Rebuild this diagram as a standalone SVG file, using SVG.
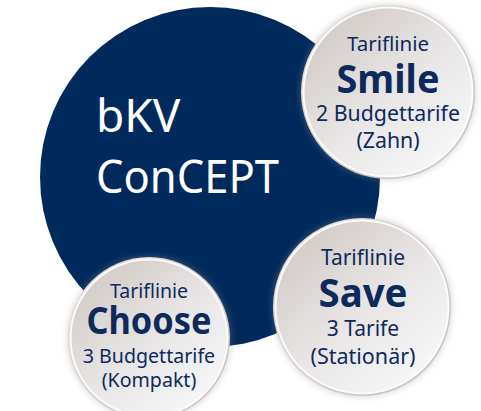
<svg xmlns="http://www.w3.org/2000/svg" width="481" height="411" viewBox="0 0 481 411">
<defs>
<linearGradient id="disc" x1="0.15" y1="0.1" x2="0.85" y2="0.9">
<stop offset="0" stop-color="#d3ccc8"/>
<stop offset="0.55" stop-color="#e9e7e7"/>
<stop offset="1" stop-color="#f6f6f7"/>
</linearGradient>
<linearGradient id="rim" x1="0" y1="0" x2="1" y2="1">
<stop offset="0" stop-color="#e6e2df"/>
<stop offset="1" stop-color="#c4bbb6"/>
</linearGradient>
<filter id="sh" x="-20%" y="-20%" width="140%" height="140%">
<feGaussianBlur stdDeviation="3"/>
</filter>
</defs>
<style>
.t{font-family:"Noto Sans","Open Sans","Liberation Sans",sans-serif;fill:#0e2a5c;text-anchor:middle}
.b{font-weight:bold}
.w{font-family:"Noto Sans","Open Sans","Liberation Sans",sans-serif;fill:#ffffff;font-size:46px}
.shadow{fill:#9a938f;opacity:0.35}
.rimc{fill:url(#rim)}
.ring{fill:url(#disc);stroke:#fbfbfb;stroke-width:2}
</style>
<rect width="481" height="411" fill="#ffffff"/>
<g id="bkv">
<circle cx="210" cy="177" r="170" fill="#002a5c"/>
<text class="w" x="96" y="132">bKV</text>
<text class="w" x="96" y="193" textLength="183" lengthAdjust="spacingAndGlyphs">ConCEPT</text>
</g>
<g id="connectors"/>
<g id="smile">
<circle class="shadow" cx="388" cy="92" r="88" filter="url(#sh)"/>
<circle class="rimc" cx="388" cy="92" r="87"/>
<circle class="ring" cx="388" cy="92" r="84.5"/>
<text class="t" x="388" y="51" font-size="20.5">Tariflinie</text>
<text class="t b" x="388" y="93" font-size="40" textLength="103" lengthAdjust="spacingAndGlyphs">Smile</text>
<text class="t" x="388" y="121" font-size="21.3">2 Budgettarife</text>
<text class="t" x="388" y="148" font-size="21.3">(Zahn)</text>
</g>
<g id="save">
<circle class="shadow" cx="362" cy="307" r="90" filter="url(#sh)"/>
<circle class="rimc" cx="362" cy="307" r="89"/>
<circle class="ring" cx="362" cy="307" r="86.5"/>
<text class="t" x="363" y="265" font-size="21">Tariflinie</text>
<text class="t b" x="363" y="307" font-size="40" textLength="89" lengthAdjust="spacingAndGlyphs">Save</text>
<text class="t" x="363" y="336" font-size="21">3 Tarife</text>
<text class="t" x="363" y="364" font-size="21.5">(Stationär)</text>
</g>
<g id="choose">
<circle class="shadow" cx="149" cy="338" r="82" filter="url(#sh)"/>
<circle class="rimc" cx="149" cy="338" r="81"/>
<circle class="ring" cx="149" cy="338" r="78.5"/>
<text class="t" x="149" y="298" font-size="19.5">Tariflinie</text>
<text class="t b" x="149" y="334" font-size="37" textLength="125" lengthAdjust="spacingAndGlyphs">Choose</text>
<text class="t" x="149" y="363" font-size="19.6">3 Budgettarife</text>
<text class="t" x="149" y="387" font-size="19.6">(Kompakt)</text>
</g>
</svg>
